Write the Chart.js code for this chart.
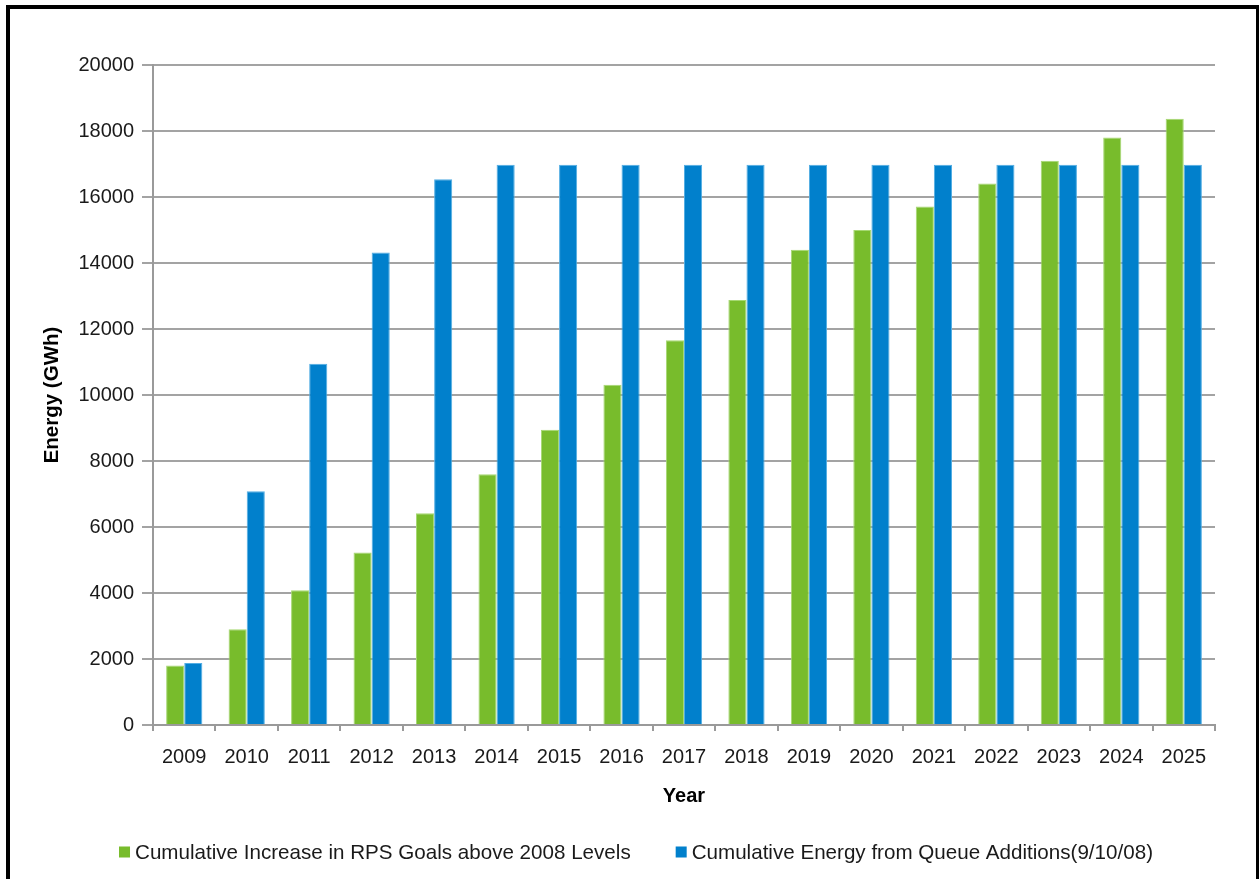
<!DOCTYPE html>
<html>
<head>
<meta charset="utf-8">
<title>Cumulative Energy vs RPS Goals</title>
<script src="https://cdn.jsdelivr.net/npm/chart.js@4.4.1/dist/chart.umd.min.js"></script>
<style>
  html, body { margin: 0; padding: 0; background: #ffffff; overflow: hidden; }
  #wrap { position: relative; width: 1259px; height: 879px; }
  #frame {
    position: absolute; left: 6px; top: 5px; width: 1246px; height: 900px;
    border-left: 4px solid #000; border-top: 4px solid #000; border-right: 3px solid #000;
    box-sizing: content-box; pointer-events: none;
  }
  canvas { position: absolute; left: 0; top: 0; }
</style>
</head>
<body>
<div id="wrap">
  <canvas id="chart" width="1259" height="879"></canvas>
  <div id="frame"></div>
</div>
<script>
// Years on the horizontal axis
const years = ['2009', '2010', '2011', '2012', '2013', '2014', '2015', '2016', '2017',
               '2018', '2019', '2020', '2021', '2022', '2023', '2024', '2025'];

// Cumulative increase in RPS goals above 2008 levels (GWh)
const rpsGoals = [1800, 2900, 4080, 5230, 6420, 7600, 8950, 10310, 11660,
                  12880, 14400, 15000, 15710, 16410, 17100, 17800, 18370];

// Cumulative energy from queue additions as of 9/10/08 (GWh)
const queueEnergy = [1880, 7080, 10950, 14320, 16540, 16980, 16980, 16980, 16980,
                     16980, 16980, 16980, 16980, 16980, 16980, 16980, 16980];

// Series names
const seriesNames = ['Cumulative Increase in RPS Goals above 2008 Levels',
                     'Cumulative Energy from Queue Additions(9/10/08)'];

// Value axis range
const yMin = 0;
const yMax = 20000;
const yStep = 2000;

const FONT = '"Liberation Sans", Arial, Helvetica, sans-serif';
const GREEN = '#78bc2c';
const BLUE = '#0180cc';

// Legend drawn below the axis title, centred under the chart
const bottomLegend = {
  id: 'bottomLegend',
  afterDraw(chart) {
    const ctx = chart.ctx;
    const ds = chart.data.datasets;
    const box = 11, gapText = 5, gapItem = 45;
    ctx.save();
    ctx.font = '20.6px ' + FONT;
    ctx.textBaseline = 'middle';
    ctx.textAlign = 'left';
    const widths = ds.map(d => ctx.measureText(d.label).width);
    const total = widths.reduce((s, w) => s + box + gapText + w, 0) + gapItem * (ds.length - 1);
    let x = 636 - total / 2;
    const y = 852;
    ds.forEach((d, i) => {
      ctx.fillStyle = d.backgroundColor;
      ctx.fillRect(x, y - box / 2, box, box);
      ctx.fillStyle = '#1a1a1a';
      ctx.fillText(d.label, x + box + gapText, y + 1);
      x += box + gapText + widths[i] + gapItem;
    });
    ctx.restore();
  }
};

new Chart(document.getElementById('chart'), {
  type: 'bar',
  data: {
    labels: years,
    datasets: [
      {
        label: seriesNames[0],
        data: rpsGoals,
        backgroundColor: GREEN,
        borderColor: '#a6d872',
        borderWidth: 1,
        borderSkipped: 'bottom'
      },
      {
        label: seriesNames[1],
        data: queueEnergy,
        backgroundColor: BLUE,
        borderColor: '#52ade3',
        borderWidth: 1,
        borderSkipped: 'bottom'
      }
    ]
  },
  options: {
    responsive: false,
    animation: false,
    devicePixelRatio: 1,
    layout: { padding: { left: 0, right: 44, top: 65, bottom: 49 } },
    datasets: {
      bar: { categoryPercentage: 0.58, barPercentage: 1.0 }
    },
    plugins: {
      legend: { display: false },
      tooltip: { enabled: false }
    },
    scales: {
      x: {
        grid: {
          display: true,
          drawOnChartArea: false,
          drawTicks: true,
          tickLength: 6,
          color: '#9a9a9a',
          lineWidth: 2,
          offset: true
        },
        border: { display: true, color: '#9a9a9a', width: 2 },
        ticks: {
          color: '#1a1a1a',
          font: { family: FONT, size: 20 },
          padding: 14,
          maxRotation: 0,
          autoSkip: false
        },
        title: {
          display: true,
          text: 'Year',
          color: '#000',
          font: { family: FONT, size: 20, weight: 'bold' },
          padding: { top: 0, bottom: 22 }
        },
        afterFit(scale) { scale.height = 105; }
      },
      y: {
        min: yMin,
        max: yMax,
        grid: {
          color: '#a3a3a3',
          lineWidth: 2,
          drawTicks: true,
          tickLength: 11
        },
        border: { display: true, color: '#9a9a9a', width: 2 },
        ticks: {
          stepSize: yStep,
          color: '#1a1a1a',
          font: { family: FONT, size: 20 },
          padding: 8,
          callback: v => String(v)
        },
        title: {
          display: true,
          text: 'Energy (GWh)',
          color: '#000',
          font: { family: FONT, size: 20.5, weight: 'bold' },
          padding: { top: 40, bottom: 0 }
        },
        afterFit(scale) { scale.width = 153; }
      }
    }
  },
  plugins: [bottomLegend]
});
</script>
</body>
</html>
